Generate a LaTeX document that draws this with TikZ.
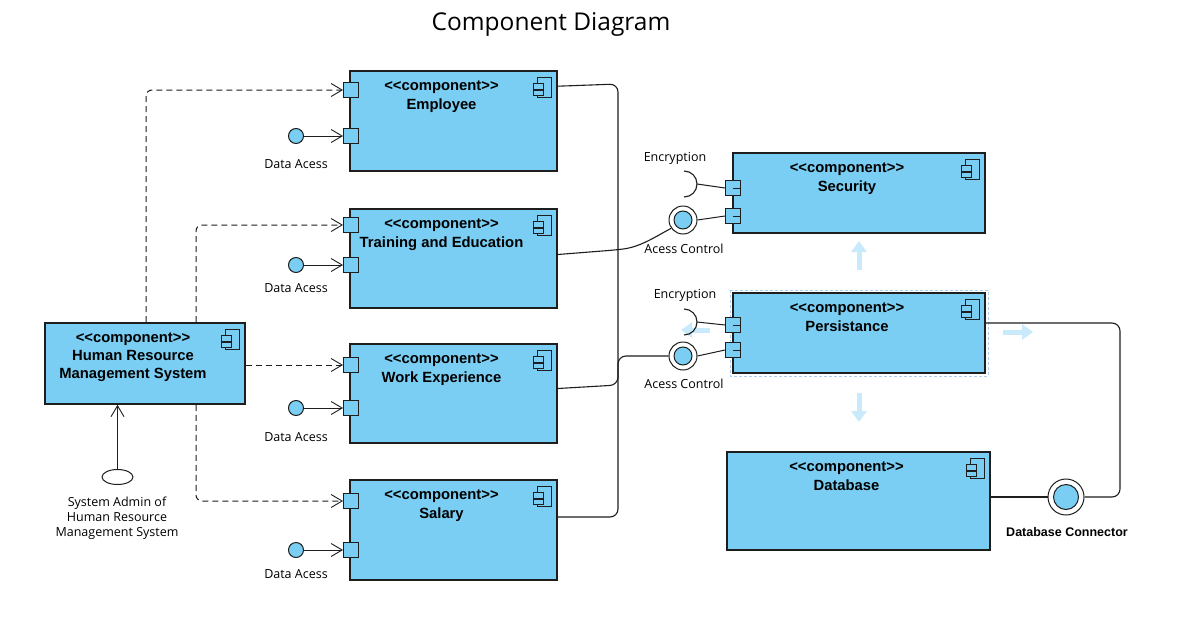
\documentclass[tikz,border=0pt]{standalone}
\usepackage{fontspec}
\setmainfont{Open Sans}
\newfontfamily\arialf{Liberation Sans}
\usetikzlibrary{arrows.meta,calc,shapes.geometric}
\definecolor{cblue}{RGB}{122,206,243}
\definecolor{hblue}{RGB}{200,234,251}
\definecolor{selb}{RGB}{175,205,238}
\definecolor{edge}{RGB}{30,30,30}
\newcommand{\ucomp}[5]{%
  \node[comp, minimum width=#3, minimum height=#4] (#1) at (#2) {};
  \node[stereo, anchor=base] (#1s) at ($(#1.north)+(-12,20)$) {<<component>>};
  \node[stereo, anchor=north] (#1n) at ($(#1.north)+(-12,28)$) {#5};
  \pic at (#1.north east) {cicon};}
\begin{document}
\begin{tikzpicture}[x=1pt,y=-1pt,
  comp/.style={draw=edge, line width=1.6pt, fill=cblue, inner sep=0pt, rectangle},
  stereo/.style={font=\arialf\bfseries\fontsize{14.8}{18}\selectfont, inner sep=0pt, align=center},
  port/.style={draw=edge, line width=1pt, fill=cblue, minimum size=15, inner sep=0pt, rectangle},
  lbl/.style={font=\fontsize{12.5}{15}\selectfont, inner sep=0pt, align=center},
  dep/.style={draw=edge, line width=1pt, dash pattern=on 6pt off 4pt, -{Straight Barb[length=11pt,width=13pt,line width=0.9pt]}, rounded corners=6},
  use/.style={draw=edge, line width=1pt, -{Straight Barb[length=11pt,width=13pt,line width=0.9pt]}},
  conn/.style={draw=edge, line width=1.1pt, rounded corners=8},
  dacc/.style={circle, draw=edge, line width=1pt, fill=cblue, minimum size=15, inner sep=0pt},
  provo/.style={circle, draw=edge, line width=1pt, fill=white, minimum size=28, inner sep=0pt},
  provi/.style={circle, draw=edge, line width=1pt, fill=cblue, minimum size=18, inner sep=0pt},
  handle/.style={draw=hblue, line width=5pt, -{Triangle[length=11pt,width=15pt]}},
  icon/.style={draw=edge, line width=0.9pt, fill=cblue},
  pics/cicon/.style={code={
    \draw[icon] (-20,7) rectangle (-6,27);
    \draw[icon] (-24,13) rectangle (-14,19);
    \draw[icon] (-24,20) rectangle (-14,25);
  }},
]
\useasboundingbox (0,0) rectangle (1188,637);
\fill[white] (0,0) rectangle (1188,637);

% title
\node[font=\fontsize{24.5}{28}\selectfont, inner sep=0pt] (title) at (551,24) {Component Diagram};

% selection frame and handles around Persistance
\draw[selb, line width=1pt, dash pattern=on 3pt off 2pt] (730,290) rectangle (988,376);
\draw[handle] (710,330) -- (681,330);
\draw[handle] (1003,332) -- (1033,332);
\draw[handle] (859,393) -- (859,422);
\draw[handle] (859,270) -- (859,241);

% components
\ucomp{emp}{453.5,121}{207}{100}{Employee}
\ucomp{tr}{453.5,258.5}{207}{99}{Training and Education}
\ucomp{wk}{453.5,393.5}{207}{99}{Work Experience}
\ucomp{sal}{453.5,530}{207}{100}{Salary}
\ucomp{hrms}{145,363.5}{200}{81}{Human Resource\\Management System}
\ucomp{sec}{859,193}{252}{80}{Security}
\ucomp{per}{859,333}{252}{80}{Persistance}
\ucomp{db}{858.5,501}{263}{98}{Database}

% ports
\node[port] (empP1) at (351,90) {};
\node[port] (empP2) at (351,136) {};
\node[port] (trP1) at (351,225) {};
\node[port] (trP2) at (351,265) {};
\node[port] (wkP1) at (351,365) {};
\node[port] (wkP2) at (351,408) {};
\node[port] (salP1) at (351,501) {};
\node[port] (salP2) at (351,550) {};
\node[port] (secP1) at (733,188) {};
\node[port] (secP2) at (733,216) {};
\node[port] (perP1) at (733,325) {};
\node[port] (perP2) at (733,350) {};
\foreach \p in {secP1,secP2,perP1,perP2}{\draw[edge, line width=1pt] (\p.center) -- (\p.east);}

% data access interfaces
\node[dacc] (da1) at (296,136) {};
\node[dacc] (da2) at (296,265) {};
\node[dacc] (da3) at (296,408) {};
\node[dacc] (da4) at (296,550) {};
\node[lbl] (da1l) at (296,164) {Data Acess};
\node[lbl] (da2l) at (296,288) {Data Acess};
\node[lbl] (da3l) at (296,437) {Data Acess};
\node[lbl] (da4l) at (296,574) {Data Acess};
\draw[use] (da1.east) -- (empP2.west);
\draw[use] (da2.east) -- (trP2.west);
\draw[use] (da3.east) -- (wkP2.west);
\draw[use] (da4.east) -- (salP2.west);

% dependencies from HRMS
\coordinate (d1) at (146,90);
\coordinate (d2) at (196,225);
\coordinate (d4) at (196,501);
\draw[dep] (hrms.north -| d1) -- (d1) -- (empP1.west);
\draw[dep] (hrms.north -| d2) -- (d2) -- (trP1.west);
\draw[dep] (hrms.east |- wkP1) -- (wkP1.west);
\draw[dep] (hrms.south -| d4) -- (d4) -- (salP1.west);

% system admin
\node[ellipse, draw=edge, line width=1pt, fill=white, minimum width=31, minimum height=15, inner sep=0pt] (adm) at (117.5,477) {};
\draw[use] (adm.north) -- (adm.north |- hrms.south);
\node[lbl] (adml) at (117,518) {System Admin of\\Human Resource\\Management System};

% security interfaces
\coordinate (enc1) at (697,184);
\draw[edge, line width=1.1pt] ($(enc1)+(-13,-13)$) arc[start angle=-90, end angle=90, radius=13];
\node[provo] (acc1) at (683,220) {};
\node[provi] (acc1i) at (acc1) {};
\draw[edge, line width=1pt] (enc1) -- (secP1.west);
\draw[edge, line width=1pt] (acc1.east) -- (secP2.west);
\node[lbl] (enc1l) at (675,158) {Encryption};
\node[lbl] (acc1l) at (684,249) {Acess Control};

% persistance interfaces
\coordinate (enc2) at (697,322);
\draw[edge, line width=1.1pt] ($(enc2)+(-13,-13)$) arc[start angle=-90, end angle=90, radius=13];
\node[provo] (acc2) at (683,356) {};
\node[provi] (acc2i) at (acc2) {};
\draw[edge, line width=1pt] (enc2) -- (perP1.west);
\draw[edge, line width=1pt] (acc2.east) -- (perP2.west);
\node[lbl] (enc2l) at (685,295) {Encryption};
\node[lbl] (acc2l) at (684,384) {Acess Control};

% database connector
\node[provo, minimum size=36] (dbc) at (1066,497) {};
\node[provi, minimum size=25] (dbci) at (dbc) {};
\node[font=\arialf\bfseries\fontsize{12.5}{15}\selectfont, inner sep=0pt] (dbcl) at (1067,532) {Database Connector};

% connectors
\draw[conn] ($(emp.north east)+(0,16)$) -- (618,84) -- (618,517) -- ($(sal.east)+(0,-13)$);
\draw[conn] ($(tr.east)+(0,-4)$) -- (615,250) .. controls (640,247) and (655,237) .. (acc1.215);
\draw[conn] ($(wk.east)+(0,-5)$) -- (618,385) -- (618,356) -- (acc2.west);
\draw[conn] ($(per.east)+(0,-10)$) -- (1120,323) -- (1120,497) -- (dbc.east);
\draw[conn] (db.east |- dbc) -- (dbc.west);
\end{tikzpicture}
\end{document}
